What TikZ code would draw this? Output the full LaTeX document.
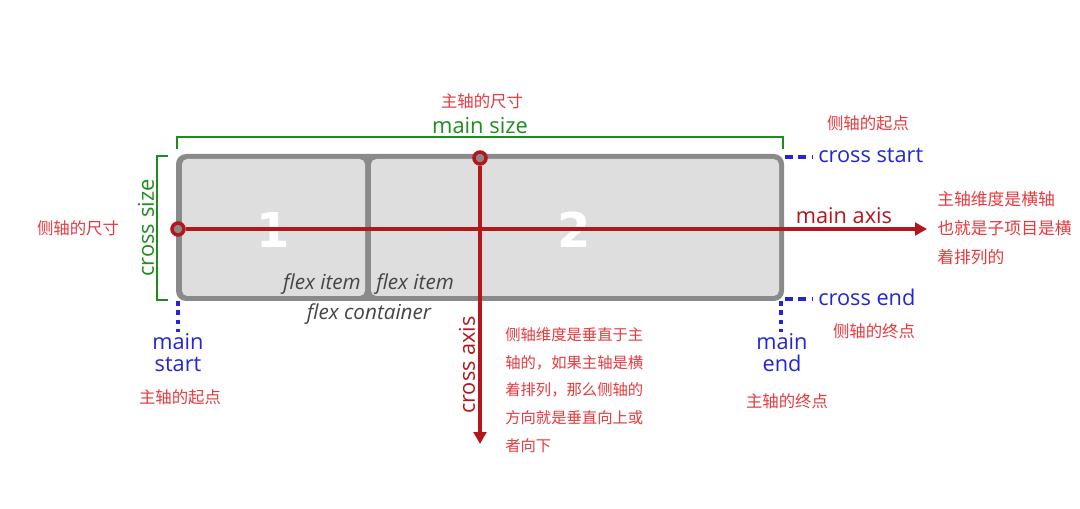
\documentclass[tikz,border=0pt]{standalone}
\usepackage{fontspec}
\setmainfont{Open Sans}
\newfontfamily\cjk{Noto Sans CJK SC}
\newfontfamily\digitfont{DejaVu Sans}
\usetikzlibrary{arrows.meta}
\definecolor{axred}{HTML}{B3161B}
\definecolor{notered}{HTML}{E63A3F}
\definecolor{sizegreen}{HTML}{1E8C1E}
\definecolor{edgeblue}{HTML}{2424D8}
\definecolor{boxgray}{HTML}{8A8A8A}
\definecolor{itemgray}{HTML}{DEDEDE}
\definecolor{itemtext}{HTML}{454545}
\begin{document}
\begin{tikzpicture}[x=0.75pt,y=-0.75pt,
  note/.style={text=notered,font=\cjk\fontsize{12.3}{14}\selectfont,inner sep=0pt},
  bignote/.style={text=notered,font=\cjk\fontsize{11.5}{20.8}\selectfont,inner sep=0pt,align=left,anchor=west},
  rightnote/.style={bignote,font=\cjk\fontsize{12.6}{21.5}\selectfont},
  greenlab/.style={text=sizegreen,font=\fontsize{16.4}{18}\selectfont,inner sep=0pt},
  bluelab/.style={text=edgeblue,font=\fontsize{16.3}{16.5}\selectfont,inner sep=0pt},
  redlab/.style={text=axred,font=\fontsize{16.3}{18}\selectfont,inner sep=0pt},
  itemlab/.style={text=itemtext,font=\itshape\fontsize{15.5}{16}\selectfont,inner sep=0pt},
  numlab/.style={text=white,font=\digitfont\bfseries\fontsize{36}{40}\selectfont,inner sep=0pt},
  axisline/.style={draw=axred,line width=3.2pt,-{Triangle[length=9pt,width=9.5pt]}},
  origin/.style={circle,draw=axred,fill=boxgray,line width=2.6pt,minimum size=9pt,inner sep=0pt},
  bracket/.style={draw=sizegreen,line width=1.9pt},
  dotline/.style={draw=edgeblue,line width=3pt,dash pattern=on 3.5pt off 3.5pt},
  dashline/.style={draw=edgeblue,line width=3pt,dash pattern=on 6pt off 4pt}
]
\useasboundingbox (0,0) rectangle (1080,509);
\fill[white] (0,0) rectangle (1080,509);

% container and items
\fill[boxgray,rounded corners=7.5pt] (176,154) rectangle (784,301);
\fill[itemgray,rounded corners=4pt] (182,159) rectangle (365,296);
\fill[itemgray,rounded corners=4pt] (371,159) rectangle (779,296);

\node[numlab] (n1) at (273,230) {1};
\node[numlab] (n2) at (574,230) {2};
\node[itemlab,anchor=east] (fi1) at (361,284) {flex item};
\node[itemlab,anchor=west] (fi2) at (376,284) {flex item};
\node[itemlab] (fc) at (369,314) {flex container};

% main size bracket
\draw[bracket] (177,149) -- (177,137) -- (783,137) -- (783,149);
\node[greenlab] (ms) at (480,126) {main size};
\node[note] (msn) at (482,101) {主轴的尺寸};

% cross size bracket
\draw[bracket] (168,156) -- (157,156) -- (157,300) -- (168,300);
\node[greenlab,rotate=90] (cs) at (146,228) {cross size};
\node[note] (csn) at (78,228) {侧轴的尺寸};

% cross start / end
\coordinate (csa) at (785,157);
\coordinate (csb) at (813,157);
\draw[dashline] (csa) -- (csb);
\node[bluelab,anchor=west] (cst) at (818,155) {cross start};
\node[note] (cstn) at (868,123) {侧轴的起点};

\coordinate (cea) at (785,299);
\coordinate (ceb) at (813,299);
\draw[dashline] (cea) -- (ceb);
\node[bluelab,anchor=west] (cet) at (818,297) {cross end};
\node[note] (cetn) at (874,331) {侧轴的终点};

% main start / end
\coordinate (msa) at (178,301);
\coordinate (msb) at (178,332);
\draw[dotline] (msa) -- (msb);
\node[bluelab,align=center] (mst) at (178,353) {main\\start};
\node[note] (mstn) at (180,397) {主轴的起点};

\coordinate (mea) at (781,301);
\coordinate (meb) at (781,332);
\draw[dotline] (mea) -- (meb);
\node[bluelab,align=center] (met) at (782,353) {main\\end};
\node[note] (metn) at (787,401) {主轴的终点};

% main axis
\node[origin] (mo) at (178,229) {};
\coordinate (mend) at (927,229);
\draw[axisline] (mo) -- (mend);
\node[redlab] (mal) at (844,216) {main axis};
\node[rightnote] (man) at (937,228) {主轴维度是横轴\\也就是子项目是横\\着排列的};

% cross axis
\node[origin] (co) at (480,158) {};
\coordinate (cend) at (480,444);
\draw[axisline] (co) -- (cend);
\node[redlab,rotate=90] (cal) at (467,365) {cross axis};
\node[bignote] (can) at (505,390) {侧轴维度是垂直于主\\轴的，如果主轴是横\\着排列，那么侧轴的\\方向就是垂直向上或\\者向下};
\end{tikzpicture}
\end{document}
